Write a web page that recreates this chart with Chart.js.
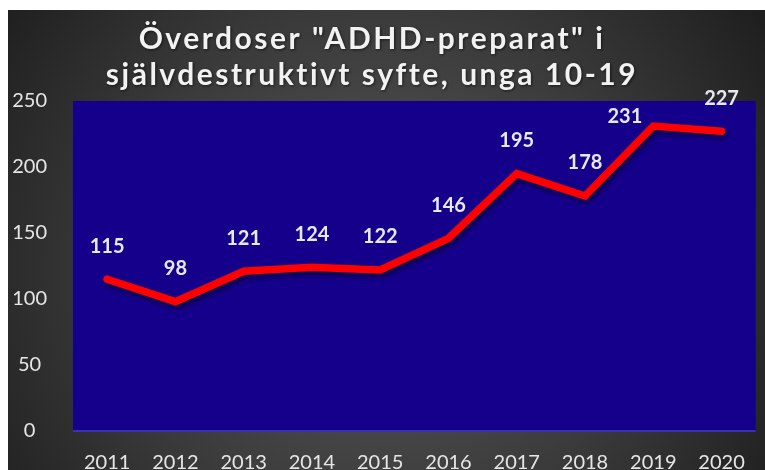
<!DOCTYPE html>
<html>
<head>
<meta charset="utf-8">
<script src="https://cdn.jsdelivr.net/npm/chart.js@4.4.1/dist/chart.umd.min.js"></script>
<style>
  html, body { margin: 0; padding: 0; background: #ffffff; width: 765px; height: 470px; overflow: hidden; }
  #wrap { position: absolute; left: 8px; top: 10px; width: 757px; height: 460px; }
</style>
</head>
<body>
<div id="wrap"><canvas id="c" width="757" height="460"></canvas></div>
<script>
const titleLines = ['Överdoser "ADHD-preparat" i', 'självdestruktivt syfte, unga 10-19'];
const years = ['2011','2012','2013','2014','2015','2016','2017','2018','2019','2020'];
const overdoses = [115, 98, 121, 124, 122, 146, 195, 178, 231, 227];
const yTicks = [0, 50, 100, 150, 200, 250];

const bgPlugin = {
  id: 'bg',
  beforeDraw(chart) {
    const ctx = chart.ctx, w = chart.width, h = chart.height;
    ctx.save();
    const g = ctx.createRadialGradient(370, 260, 0, 370, 260, 480);
    g.addColorStop(0, '#575757');
    g.addColorStop(0.55, '#3a3a3a');
    g.addColorStop(1, '#1c1c1c');
    ctx.fillStyle = g;
    ctx.fillRect(0, 0, w, h);
    const a = chart.chartArea;
    ctx.fillStyle = '#15008c';
    ctx.fillRect(a.left, a.top, a.right - a.left, a.bottom - a.top);
    ctx.fillStyle = '#3b30b0';
    ctx.fillRect(a.left, a.bottom - 1, a.right - a.left, 2);
    // title
    ctx.font = 'bold 30px Lato';
    ctx.textAlign = 'center';
    ctx.textBaseline = 'middle';
    if ('letterSpacing' in ctx) ctx.letterSpacing = '2.5px';
    ctx.shadowColor = 'rgba(0,0,0,0.6)';
    ctx.shadowBlur = 3;
    ctx.shadowOffsetX = 1;
    ctx.shadowOffsetY = 1;
    ctx.fillStyle = '#f2f2f2';
    ctx.fillText(titleLines[0], 364, 29);
    ctx.fillText(titleLines[1], 364, 65);
    ctx.restore();
  }
};

const shadowPlugin = {
  id: 'lineShadow',
  beforeDatasetDraw(chart) {
    const ctx = chart.ctx;
    ctx.save();
    ctx.shadowColor = 'rgba(0,0,0,0.55)';
    ctx.shadowBlur = 6;
    ctx.shadowOffsetX = 2;
    ctx.shadowOffsetY = 3;
  },
  afterDatasetDraw(chart) {
    chart.ctx.restore();
  }
};

const labelPlugin = {
  id: 'valueLabels',
  afterDatasetsDraw(chart) {
    const ctx = chart.ctx;
    const meta = chart.getDatasetMeta(0);
    ctx.save();
    ctx.font = 'bold 20px Lato';
    ctx.textBaseline = 'middle';
    ctx.fillStyle = '#e8e8ee';
    meta.data.forEach((pt, i) => {
      // the 2019 label sits to the upper-left of its point in the original
      if (i === 8) {
        ctx.textAlign = 'right';
        ctx.fillText(String(overdoses[i]), pt.x - 11, pt.y - 10);
      } else {
        ctx.textAlign = 'center';
        ctx.fillText(String(overdoses[i]), pt.x, pt.y - 33);
      }
    });
    ctx.restore();
  }
};

new Chart(document.getElementById('c'), {
  type: 'line',
  data: {
    labels: years,
    datasets: [{
      data: overdoses,
      borderColor: '#ff0000',
      borderWidth: 7.5,
      borderCapStyle: 'round',
      borderJoinStyle: 'miter',
      pointRadius: 0,
      tension: 0,
      fill: false,
      clip: false
    }]
  },
  options: {
    responsive: false,
    animation: false,
    events: [],
    layout: { padding: { top: 91, right: 5, left: 0, bottom: 0 } },
    plugins: { legend: { display: false }, tooltip: { enabled: false }, title: { display: false } },
    scales: {
      x: {
        offset: true,
        grid: { display: false, drawTicks: false },
        border: { display: false },
        ticks: { color: '#e6e6e6', font: { family: 'Lato', size: 20 }, padding: 20, maxRotation: 0, autoSkip: false },
        afterFit(s) { s.height = 39; }
      },
      y: {
        min: 0, max: 250,
        afterBuildTicks(s) { s.ticks = yTicks.map(v => ({ value: v })); },
        grid: { display: false, drawTicks: false },
        border: { display: false },
        ticks: { color: '#e6e6e6', font: { family: 'Lato', size: 20 }, padding: 26, crossAlign: 'center' },
        afterFit(s) { s.width = 65; }
      }
    }
  },
  plugins: [bgPlugin, shadowPlugin, labelPlugin]
});
</script>
</body>
</html>
